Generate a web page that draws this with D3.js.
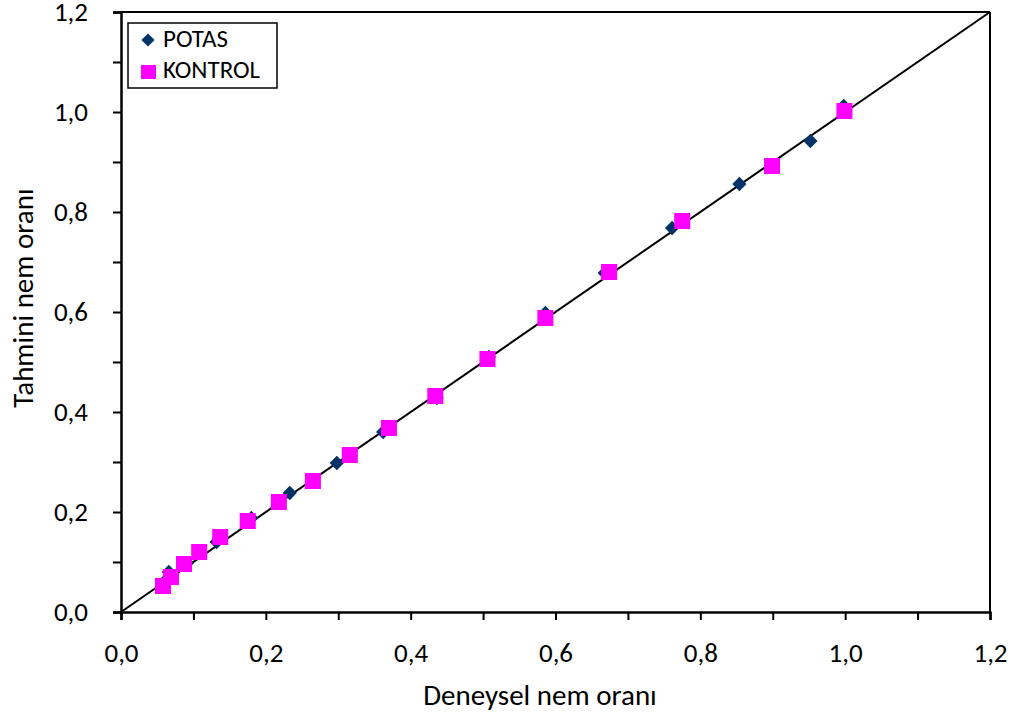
<!DOCTYPE html>
<html>
<head>
<meta charset="utf-8">
<script src="https://cdn.jsdelivr.net/npm/d3@7"></script>
<style>
  body { margin: 0; background: #fff; }
  text { font-family: Carlito, Lato, "Open Sans", sans-serif; fill: #000; }
</style>
</head>
<body>
<div id="grafica"></div>
<script>
// datos
const potasX = [0.058, 0.066, 0.091, 0.11, 0.132, 0.18, 0.233, 0.298, 0.362, 0.436, 0.508, 0.586, 0.668, 0.761, 0.854, 0.952, 0.998]
const potasY = [0.058, 0.08, 0.098, 0.12, 0.14, 0.188, 0.238, 0.298, 0.36, 0.428, 0.51, 0.598, 0.678, 0.768, 0.856, 0.942, 1.012]
const kontrolX = [0.058, 0.069, 0.087, 0.108, 0.137, 0.175, 0.218, 0.265, 0.316, 0.37, 0.434, 0.506, 0.586, 0.674, 0.775, 0.899, 0.999]
const kontrolY = [0.052, 0.07, 0.096, 0.12, 0.15, 0.182, 0.22, 0.262, 0.314, 0.368, 0.432, 0.506, 0.588, 0.68, 0.782, 0.892, 1.002]
const ticksMayor = [0, 0.2, 0.4, 0.6, 0.8, 1.0, 1.2]
const ticksMenor = [0.1, 0.3, 0.5, 0.7, 0.9, 1.1]
const series = ["POTAS", "KONTROL"]

const anchoTotal = 1020
const altoTotal = 722
const margins = { top: 12, right: 30, bottom: 110, left: 121 }
const ancho = anchoTotal - margins.left - margins.right
const alto = altoTotal - margins.top - margins.bottom

const svg = d3.select("#grafica")
  .append("svg")
  .attr("width", anchoTotal)
  .attr("height", altoTotal)

const g = svg.append("g")
  .attr("transform", `translate(${margins.left}, ${margins.top})`)

const x = d3.scaleLinear().domain([0, 1.2]).range([0, ancho])
const y = d3.scaleLinear().domain([0, 1.2]).range([alto, 0])
const fmt = (d) => d3.format(".1f")(d).replace(".", ",")

// ejes
const xAxis = d3.axisBottom(x).tickValues(ticksMayor).tickSize(8).tickFormat(fmt)
const yAxis = d3.axisLeft(y).tickValues(ticksMayor).tickSize(8).tickPadding(25).tickFormat(fmt)
const xMenor = d3.axisBottom(x).tickValues(ticksMenor).tickSize(8).tickFormat("")
const yMenor = d3.axisLeft(y).tickValues(ticksMenor).tickSize(8).tickFormat("")

const gx = g.append("g").attr("transform", `translate(0, ${alto})`).call(xAxis)
g.append("g").attr("transform", `translate(0, ${alto})`).call(xMenor)
const gy = g.append("g").call(yAxis)
g.append("g").call(yMenor)
g.selectAll(".domain, .tick line").attr("stroke", "#000").attr("stroke-width", 2)
g.selectAll(".tick text").style("font-size", "27px")
gx.selectAll(".tick text").attr("y", 50).attr("dy", null)

// marco
g.append("line").attr("x1", 0).attr("x2", ancho).attr("y1", 0).attr("y2", 0)
  .attr("stroke", "#000").attr("stroke-width", 2)
g.append("line").attr("x1", ancho).attr("x2", ancho).attr("y1", 0).attr("y2", alto)
  .attr("stroke", "#000").attr("stroke-width", 2)

// linea 1:1
g.append("line")
  .attr("x1", x(0)).attr("y1", y(0))
  .attr("x2", x(1.2)).attr("y2", y(1.2))
  .attr("stroke", "#000").attr("stroke-width", 2)

// POTAS
const diamante = d3.symbol().type(d3.symbolDiamond2).size(130)
g.selectAll(".potas")
  .data(d3.zip(potasX, potasY))
  .enter()
  .append("path")
  .attr("class", "potas")
  .attr("d", diamante)
  .attr("transform", (d) => `translate(${x(d[0])}, ${y(d[1])})`)
  .attr("fill", "#003366")

// KONTROL
const lado = 16
g.selectAll(".kontrol")
  .data(d3.zip(kontrolX, kontrolY))
  .enter()
  .append("rect")
  .attr("class", "kontrol")
  .attr("x", (d) => x(d[0]) - lado / 2)
  .attr("y", (d) => y(d[1]) - lado / 2)
  .attr("width", lado)
  .attr("height", lado)
  .attr("fill", "#ff00ff")

// titulos
svg.append("text")
  .attr("x", 540)
  .attr("y", 705)
  .attr("text-anchor", "middle")
  .style("font-size", "29px")
  .text("Deneysel nem oranı")
svg.append("text")
  .attr("transform", `translate(33, 298) rotate(-90)`)
  .attr("text-anchor", "middle")
  .style("font-size", "29px")
  .text("Tahmini nem oranı")

// leyenda
const ley = svg.append("g").attr("transform", "translate(128, 23)")
ley.append("rect").attr("width", 149).attr("height", 65)
  .attr("fill", "#fff").attr("stroke", "#000").attr("stroke-width", 1.5)
ley.append("path")
  .attr("d", d3.symbol().type(d3.symbolDiamond2).size(110))
  .attr("transform", "translate(20, 17)")
  .attr("fill", "#003366")
ley.append("rect").attr("x", 13).attr("y", 42).attr("width", 15).attr("height", 14)
  .attr("fill", "#ff00ff")
ley.selectAll(".ley-texto")
  .data(series)
  .enter()
  .append("text")
  .attr("x", 35)
  .attr("y", (d, i) => 24 + i * 31)
  .style("font-size", "25px")
  .text((d) => d)
</script>
</body>
</html>
